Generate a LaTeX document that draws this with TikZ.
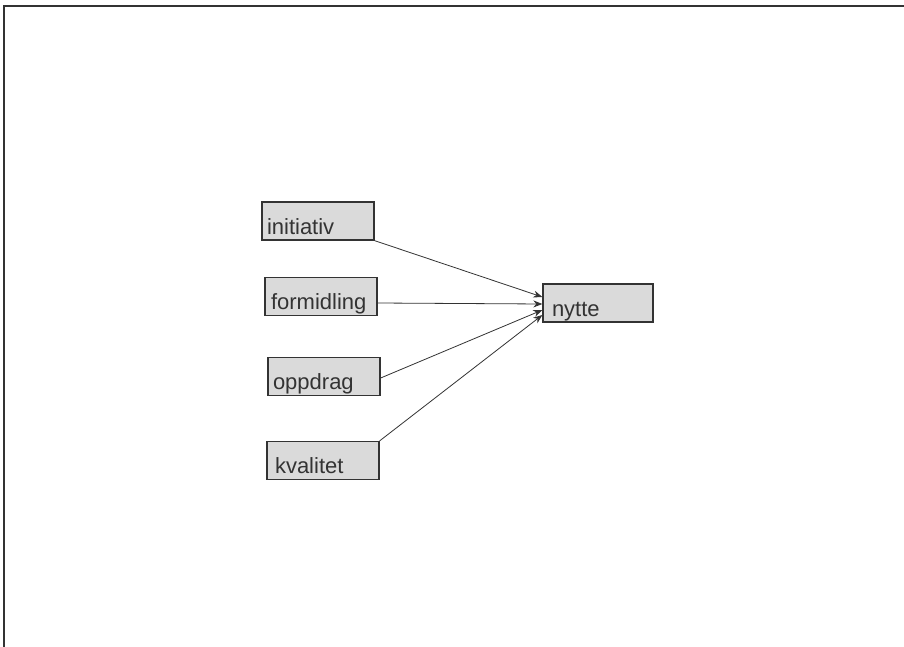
\documentclass[tikz,border=0pt]{standalone}
\usepackage{fontspec}
\setmainfont{Liberation Sans}
\usetikzlibrary{arrows.meta}
\definecolor{inkgray}{HTML}{333333}
\definecolor{boxfill}{HTML}{DADADA}
\tikzset{
  box/.style={draw=inkgray, line width=1.3pt, fill=boxfill, rectangle,
    inner xsep=5pt, inner ysep=0pt, text height=32pt, text depth=6pt,
    text width=102pt, minimum width=112pt, align=left,
    font=\fontsize{22}{22}\selectfont, text=inkgray},
  link/.style={draw=inkgray, line width=0.8pt, -{Stealth[length=9pt,width=7pt]}},
  frame/.style={draw=inkgray, line width=2pt}
}
\begin{document}
\begin{tikzpicture}[x=1pt,y=-1pt]
  \useasboundingbox[fill=white] (0,0) rectangle (904,647);
  % page frame: top and left edges
  \draw[frame] (4,647) -- (4,6) -- (904,6);

  % factor boxes
  \node[box] (initiativ) at (318,221) {initiativ};
  \node[box] (formidling) at (321,296.5) {\hspace*{1pt}formidling};
  \node[box] (oppdrag) at (324,376.5) {oppdrag};
  \node[box] (kvalitet) at (323,460.5) {\hspace*{3pt}kvalitet};
  \node[box, text width=100pt, minimum width=110pt] (nytte) at (598,303) {\hspace*{4pt}nytte};

  % connectors into the outcome box
  \draw[link] (initiativ.south east) -- ([yshift=6pt]nytte.west);
  \draw[link] ([yshift=-6.5pt]formidling.east) -- ([yshift=-1pt]nytte.west);
  \draw[link] ([yshift=-1.5pt]oppdrag.east) -- ([yshift=-7pt]nytte.west);
  \draw[link] (kvalitet.north east) -- ([yshift=-12pt]nytte.west);
\end{tikzpicture}
\end{document}
